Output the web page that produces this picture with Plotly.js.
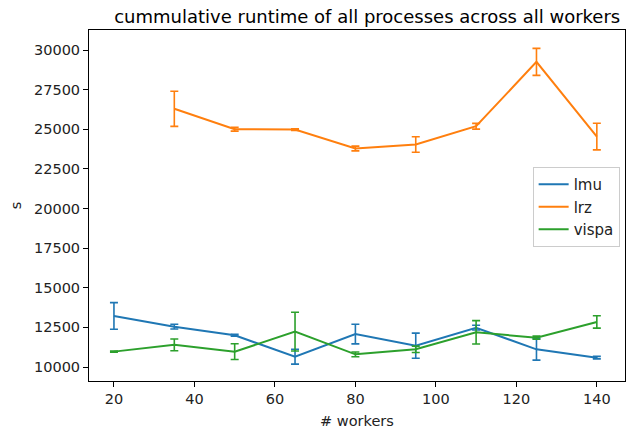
<!DOCTYPE html>
<html>
<head>
<meta charset="utf-8">
<script src="https://cdn.plot.ly/plotly-3.0.1.min.js"></script>
<style>html,body{margin:0;padding:0;background:#fff;}#chart{width:632px;height:429px;}</style>
</head>
<body>
<div id="chart"></div>
<script>
const workers = [20, 35, 50, 65, 80, 95, 110, 125, 140];
const lrzWorkers = [35, 50, 65, 80, 95, 110, 125, 140];

const lmuMean = [13220, 12545, 12000, 10650, 12080, 11345, 12480, 11115, 10590];
const lmuErr  = [840, 150, 60, 470, 620, 790, 150, 680, 80];

const lrzMean = [26290, 25000, 24980, 23785, 24035, 25190, 29250, 24540];
const lrzErr  = [1110, 120, 50, 150, 490, 180, 850, 840];

const vispaMean = [10970, 11400, 10970, 12230, 10800, 11115, 12190, 11850, 12840];
const vispaErr  = [40, 370, 500, 1220, 150, 200, 735, 100, 390];

const seriesNames = ['lmu', 'lrz', 'vispa'];
const colors = ['#1f77b4', '#ff7f0e', '#2ca02c'];

function mk(name, x, y, e, c) {
  return {
    type: 'scatter', mode: 'lines', name: name, x: x, y: y,
    line: {color: c, width: 2},
    error_y: {type: 'data', array: e, visible: true, color: c, thickness: 1.6, width: 4}
  };
}

const data = [
  mk(seriesNames[0], workers, lmuMean, lmuErr, colors[0]),
  mk(seriesNames[1], lrzWorkers, lrzMean, lrzErr, colors[1]),
  mk(seriesNames[2], workers, vispaMean, vispaErr, colors[2])
];

const axisCommon = {
  showgrid: false, zeroline: false, showline: true, mirror: true,
  linecolor: '#000', linewidth: 1, ticks: 'outside', ticklen: 5, tickwidth: 1,
  tickcolor: '#000', tickfont: {family: 'DejaVu Sans', size: 14.5, color: '#222'}
};

const layout = {
  width: 632, height: 429,
  margin: {l: 89, r: 7, t: 30, b: 48},
  paper_bgcolor: '#fff', plot_bgcolor: '#fff',
  font: {family: 'DejaVu Sans', color: '#000'},
  title: {text: 'cummulative runtime of all processes across all workers',
          font: {family: 'DejaVu Sans', size: 18, color: '#000'},
          x: 0.581, xanchor: 'center', y: 0.962, yanchor: 'middle'},
  xaxis: Object.assign({}, axisCommon, {
    range: [13.8, 147], tickvals: [20, 40, 60, 80, 100, 120, 140],
    title: {text: '# workers', font: {family: 'DejaVu Sans', size: 14.5, color: '#222'}, standoff: 10}
  }),
  yaxis: Object.assign({}, axisCommon, {
    range: [9117, 31262],
    tickvals: [10000, 12500, 15000, 17500, 20000, 22500, 25000, 27500, 30000],
    ticktext: ['10000', '12500', '15000', '17500', '20000', '22500', '25000', '27500', '30000'],
    title: {text: 's', font: {family: 'DejaVu Sans', size: 14.5, color: '#222'}, standoff: 8}
  }),
  showlegend: true,
  legend: {x: 0.99, xanchor: 'right', y: 0.496, yanchor: 'middle',
           bgcolor: 'rgba(255,255,255,0.8)', bordercolor: '#ccc', borderwidth: 1,
           tracegroupgap: 0,
           font: {family: 'DejaVu Sans', size: 15, color: '#222'}}
};

Plotly.newPlot('chart', data, layout, {displayModeBar: false, staticPlot: true});
</script>
</body>
</html>
